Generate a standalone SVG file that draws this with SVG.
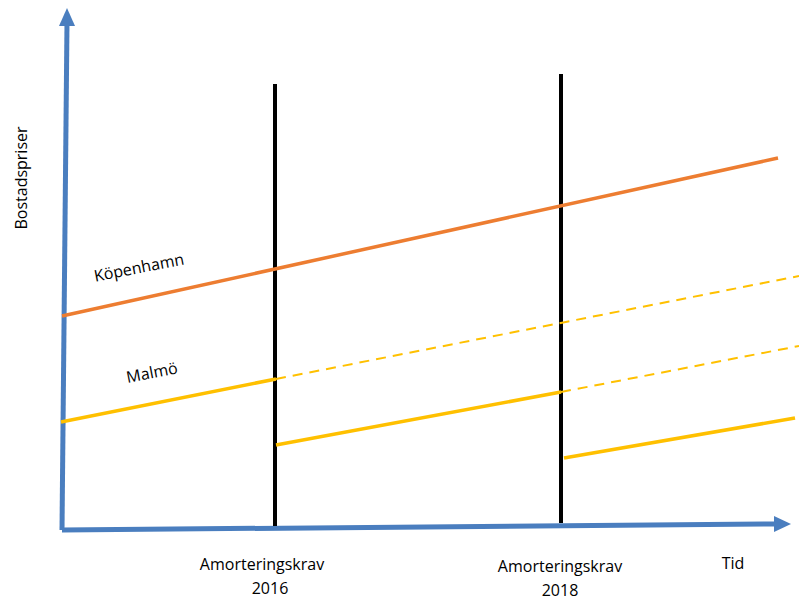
<svg xmlns="http://www.w3.org/2000/svg" width="799" height="600" viewBox="0 0 799 600">
<style>
.ax{stroke:#4a7ebf;stroke-width:5;fill:none}
.axh{fill:#4a7ebf}
.vl{stroke:#000;stroke-width:4}
.or{stroke:#ed7d31;stroke-width:3.5;fill:none}
.ye{stroke:#ffc000;stroke-width:3.5;fill:none}
.yd{stroke:#ffc000;stroke-width:2;fill:none;stroke-dasharray:10 7}
text{font-family:"Open Sans","Liberation Sans",sans-serif;font-size:16px;fill:#000}
</style>
<rect width="799" height="600" fill="#fff"/>
<g id="axes">
<line class="ax" x1="62" y1="530" x2="67" y2="22"/>
<polygon class="axh" points="67,8 75,26 59,26"/>
<line class="ax" x1="62" y1="530" x2="776" y2="524"/>
<polygon class="axh" points="791,524 774,516 774,532"/>
</g>
<g id="connectors">
<line class="vl" x1="275" y1="84" x2="275" y2="526"/>
<line class="vl" x1="561" y1="74" x2="561" y2="523"/>
<line class="or" x1="62" y1="316" x2="778" y2="158"/>
<line class="ye" x1="61" y1="422" x2="276" y2="379"/>
<line class="yd" x1="276" y1="379" x2="799" y2="276"/>
<line class="ye" x1="276" y1="445" x2="561" y2="392"/>
<line class="yd" x1="561" y1="392" x2="799" y2="346"/>
<line class="ye" x1="564" y1="458" x2="795" y2="418"/>
</g>
<g id="labels">
<text transform="translate(27,178) rotate(-90)" text-anchor="middle" font-size="17">Bostadspriser</text>
<text transform="translate(140,273) rotate(-11)" text-anchor="middle" font-size="17.5">Köpenhamn</text>
<text transform="translate(153,378) rotate(-11)" text-anchor="middle" font-size="18">Malmö</text>
<text x="262" y="570" text-anchor="middle" font-size="16.5">Amorteringskrav</text>
<text x="270" y="594" text-anchor="middle" font-size="17">2016</text>
<text x="560" y="572" text-anchor="middle" font-size="16.5">Amorteringskrav</text>
<text x="560" y="596" text-anchor="middle" font-size="17">2018</text>
<text x="733" y="569" text-anchor="middle" font-size="17">Tid</text>
</g>
</svg>
